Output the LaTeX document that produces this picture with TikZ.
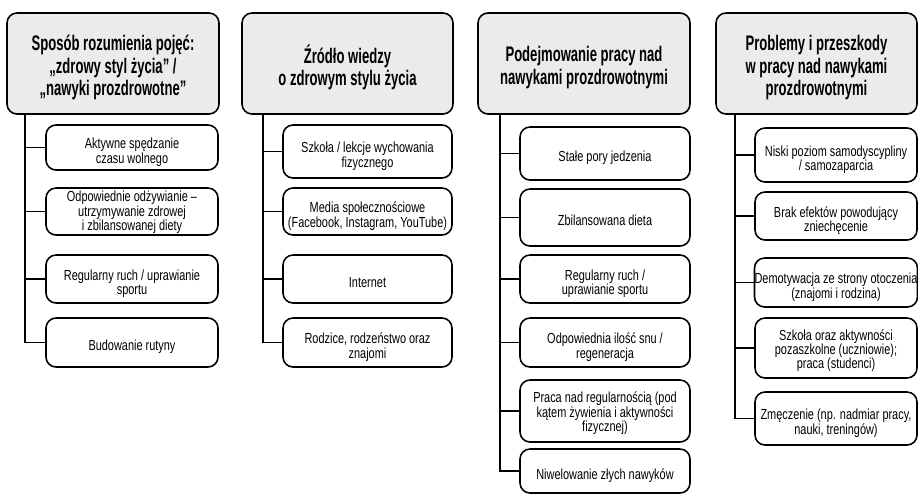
\documentclass[tikz,border=0pt]{standalone}
\usepackage{fontspec}
\setmainfont{Liberation Sans}[FakeStretch=0.75]
\newfontfamily\naglowekfont{Liberation Sans}[FakeStretch=0.62]
\definecolor{szary}{HTML}{EBEBEB}
% tekst w ramce lekko obnizony
\newcommand{\napis}[2][1mm]{\raisebox{-#1}[\height][\depth]{\begin{tabular}{@{}c@{}}#2\end{tabular}}}

\begin{document}
\begin{tikzpicture}[x=0.2mm, y=-0.2mm,
  naglowek/.style={draw, line width=0.9pt, rounded corners=2mm, fill=szary, minimum width=#1*0.2mm, minimum height=101*0.2mm, inner sep=0pt, font=\naglowekfont\bfseries\fontsize{12}{12.8}\selectfont},
  pole/.style 2 args={draw, line width=0.9pt, rounded corners=2mm, fill=white, minimum width=#1*0.2mm, minimum height=#2*0.2mm, inner sep=0pt, font=\fontsize{8.3}{7.3}\selectfont},
  galaz/.style={line width=0.9pt}]
  \useasboundingbox (0,0) rectangle (918,494);

  % naglowki
  \node[naglowek=212] (h1) at (113,63.5) {\napis{Sposób rozumienia pojęć:\\„zdrowy styl życia” /\\„nawyki prozdrowotne”}};
  \node[naglowek=211] (h2) at (347.5,63.5) {\napis{Źródło wiedzy\\o zdrowym stylu życia}};
  \node[naglowek=212] (h3) at (584,63.5) {\napis{Podejmowanie pracy nad\\nawykami prozdrowotnymi}};
  \node[naglowek=201] (h4) at (816.5,63.5) {\napis{Problemy i przeszkody\\w pracy nad nawykami\\prozdrowotnymi}};

  % kolumna 1
  \node[pole={172}{45}] (a1) at (132,147.5) {\napis{Aktywne spędzanie\\czasu wolnego}};
  \node[pole={172}{47}] (a2) at (132,211.5) {\napis[0.3mm]{Odpowiednie odżywianie –\\utrzymywanie zdrowej\\i zbilansowanej diety}};
  \node[pole={172}{48}] (a3) at (132,279) {\napis{Regularny ruch / uprawianie\\sportu}};
  \node[pole={172}{49}] (a4) at (132,342.5) {\napis{Budowanie rutyny}};

  % kolumna 2
  \node[pole={169}{53}] (b1) at (367.5,151.5) {\napis{Szkoła / lekcje wychowania\\fizycznego}};
  \node[pole={169}{47}] (b2) at (367.5,211.5) {\napis{Media społecznościowe\\(Facebook, Instagram, YouTube)}};
  \node[pole={169}{48}] (b3) at (367.5,279) {\napis{Internet}};
  \node[pole={169}{49}] (b4) at (367.5,342.5) {\napis{Rodzice, rodzeństwo oraz\\znajomi}};

  % kolumna 3
  \node[pole={170}{53}] (c1) at (605,153.5) {\napis{Stałe pory jedzenia}};
  \node[pole={170}{57}] (c2) at (605,217.5) {\napis{Zbilansowana dieta}};
  \node[pole={170}{48}] (c3) at (605,279) {\napis{Regularny ruch /\\uprawianie sportu}};
  \node[pole={170}{49}] (c4) at (605,342.5) {\napis{Odpowiednia ilość snu /\\regeneracja}};
  \node[pole={170}{62}] (c5) at (605,411) {\napis[0.6mm]{Praca nad regularnością (pod\\kątem żywienia i aktywności\\fizycznej)}};
  \node[pole={170}{44}] (c6) at (605,471) {\napis{Niwelowanie złych nawyków}};

  % kolumna 4
  \node[pole={162}{54}] (d1) at (836,155) {\napis{Niski poziom samodyscypliny\\/ samozaparcia}};
  \node[pole={162}{48}] (d2) at (836,216) {\napis{Brak efektów powodujący\\zniechęcenie}};
  \node[pole={162}{49}] (d3) at (836,282.5) {\napis{Demotywacja ze strony otoczenia\\(znajomi i rodzina)}};
  \node[pole={162}{60}] (d4) at (836,348) {\napis[0.6mm]{Szkoła oraz aktywności\\pozaszkolne (uczniowie);\\praca (studenci)}};
  \node[pole={162}{53}] (d5) at (836,418.5) {\napis{Zmęczenie (np. nadmiar pracy,\\nauki, treningów)}};

  % galezie
  \coordinate (p1) at (25,114);
  \coordinate (p2) at (263,114);
  \coordinate (p3) at (500,114);
  \coordinate (p4) at (735,114);
  \foreach \n in {a1,a2,a3,a4} \draw[galaz] (p1) |- (\n.west);
  \foreach \n in {b1,b2,b3,b4} \draw[galaz] (p2) |- (\n.west);
  \foreach \n in {c1,c2,c3,c4,c5,c6} \draw[galaz] (p3) |- (\n.west);
  \foreach \n in {d1,d2,d3,d4,d5} \draw[galaz] (p4) |- (\n.west);
\end{tikzpicture}
\end{document}
